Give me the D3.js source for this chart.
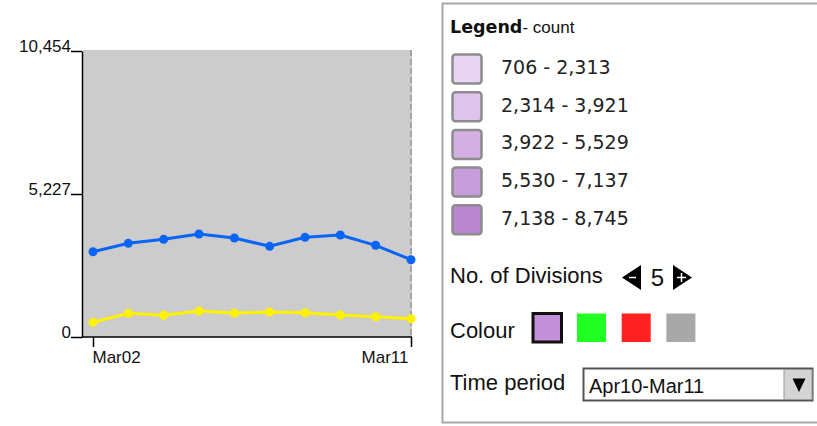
<!DOCTYPE html>
<html>
<head>
<meta charset="utf-8">
<script src="https://cdn.jsdelivr.net/npm/d3@7"></script>
<style>
  body { margin: 0; background: #fff; }
  svg { display: block; }
  .axis text { font-family: "Liberation Sans", Arial, sans-serif; font-size: 17px; fill: #111; }
  .axis path, .axis line { stroke: #000; stroke-width: 1.5; }
</style>
</head>
<body>
<svg width="817" height="426"></svg>
<script>
// chart data
var days = ["Mar02","Mar03","Mar04","Mar05","Mar06","Mar07","Mar08","Mar09","Mar10","Mar11"];
var blueCounts = [3118, 3424, 3571, 3765, 3618, 3315, 3644, 3728, 3352, 2825];
var yellowCounts = [537, 866, 793, 950, 877, 914, 888, 804, 742, 669];
var yTicks = [0, 5227, 10454];
var yMax = 10454;

// legend data
var legendRanges = ["706 - 2,313", "2,314 - 3,921", "3,922 - 5,529", "5,530 - 7,137", "7,138 - 8,745"];
var legendColours = ["#e8d4f3", "#dec4ec", "#d3b0e3", "#c79cdb", "#b987d0"];
var paletteColours = ["#c38fd9", "#22ff22", "#ff2020", "#a8a8a8"];
var divisions = 5;
var timePeriod = "Apr10-Mar11";

var svg = d3.select("svg");

var x = d3.scalePoint().domain(days).range([93, 411]);
var y = d3.scaleLinear().domain([0, yMax]).range([337, 51]);

// plot background
svg.append("rect")
    .attr("x", 83).attr("y", 50)
    .attr("width", 329).attr("height", 287)
    .attr("fill", "#cccccc");

svg.append("line")
    .attr("x1", 411).attr("x2", 411)
    .attr("y1", 50).attr("y2", 337)
    .attr("stroke", "#888")
    .attr("stroke-width", 1.2)
    .attr("stroke-dasharray", "6,3");

// y axis
var yAxis = svg.append("g")
    .attr("class", "axis")
    .attr("transform", "translate(82,0)")
    .call(d3.axisLeft(y).tickValues(yTicks).tickFormat(d3.format(",")).tickSize(11).tickSizeOuter(0).tickPadding(0));
yAxis.selectAll("text").attr("dy", "0");

// x axis
var xAxis = svg.append("g")
    .attr("class", "axis")
    .attr("transform", "translate(0,337)")
    .call(d3.axisBottom(x).tickValues([days[0], days[days.length - 1]]).tickSize(10).tickSizeOuter(0));
xAxis.select(".domain").remove();
xAxis.append("line")
    .attr("x1", 82).attr("x2", 412)
    .attr("stroke", "#000").attr("stroke-width", 1.5);
xAxis.selectAll("text")
    .attr("y", 14)
    .attr("text-anchor", function(d, i){ return i === 0 ? "start" : "end"; })
    .attr("dx", function(d, i){ return i === 0 ? "-1" : "-3"; });

// series
var series = [
  {values: blueCounts, colour: "#0a64f5"},
  {values: yellowCounts, colour: "#fff200"}
];

var line = d3.line()
    .x(function(d, i){ return x(days[i]); })
    .y(function(d){ return y(d); });

series.forEach(function(s){
  svg.append("path")
      .datum(s.values)
      .attr("fill", "none")
      .attr("stroke", s.colour)
      .attr("stroke-width", 3)
      .attr("d", line);

  svg.append("g").selectAll("circle")
      .data(s.values)
      .enter().append("circle")
        .attr("cx", function(d, i){ return x(days[i]); })
        .attr("cy", function(d){ return y(d); })
        .attr("r", 4.5)
        .attr("fill", s.colour);
});

// legend panel
var panel = svg.append("g");
panel.append("rect")
    .attr("x", 442.5).attr("y", 3.5)
    .attr("width", 400).attr("height", 419)
    .attr("fill", "#fff")
    .attr("stroke", "#a6a6a6")
    .attr("stroke-width", 2);

var title = panel.append("text")
    .attr("x", 450).attr("y", 33)
    .attr("fill", "#111");
title.append("tspan")
    .style("font-family", "'DejaVu Sans', Verdana, sans-serif")
    .style("font-weight", "bold")
    .style("font-size", "17.5px")
    .text("Legend");
title.append("tspan")
    .style("font-family", "'Liberation Sans', Arial, sans-serif")
    .style("font-size", "17px")
    .text("- count");

var rows = panel.selectAll(".row")
    .data(legendRanges)
    .enter().append("g")
      .attr("class", "row")
      .attr("transform", function(d, i){ return "translate(0," + (i * 37.7) + ")"; });

rows.append("rect")
    .attr("x", 452.5).attr("y", 54.5)
    .attr("width", 29).attr("height", 29)
    .attr("rx", 3)
    .attr("fill", function(d, i){ return legendColours[i]; })
    .attr("stroke", "#8c8c8c")
    .attr("stroke-width", 2.5);

rows.append("text")
    .attr("x", 501).attr("y", 74)
    .style("font-family", "'DejaVu Sans', Verdana, sans-serif")
    .style("font-size", "19px")
    .attr("fill", "#222")
    .text(function(d){ return d; });

var labelFont = "'Liberation Sans', Arial, sans-serif";

// divisions control
panel.append("text")
    .attr("x", 450).attr("y", 283)
    .style("font-family", labelFont).style("font-size", "22px")
    .attr("fill", "#111")
    .text("No. of Divisions");

panel.append("path")
    .attr("d", "M622,277.5L641,265L641,290Z")
    .attr("fill", "#000");
panel.append("line")
    .attr("x1", 629).attr("x2", 636)
    .attr("y1", 277.5).attr("y2", 277.5)
    .attr("stroke", "#fff").attr("stroke-width", 1.5);

panel.append("text")
    .attr("x", 657.5).attr("y", 286)
    .attr("text-anchor", "middle")
    .style("font-family", labelFont).style("font-size", "24px")
    .attr("fill", "#111")
    .text(divisions);

panel.append("path")
    .attr("d", "M673,265L692,277.5L673,290Z")
    .attr("fill", "#000");
panel.append("path")
    .attr("d", "M677,277.5H686M681.5,273V282")
    .attr("stroke", "#fff").attr("stroke-width", 1.5);

// colour control
panel.append("text")
    .attr("x", 450).attr("y", 338)
    .style("font-family", labelFont).style("font-size", "22px")
    .attr("fill", "#111")
    .text("Colour");

panel.selectAll(".swatch")
    .data(paletteColours)
    .enter().append("rect")
      .attr("class", "swatch")
      .attr("x", function(d, i){ return i === 0 ? 533 : 577 + (i - 1) * 44.7; })
      .attr("y", 313.5)
      .attr("width", function(d, i){ return i === 0 ? 28.5 : 29; })
      .attr("height", 28.5)
      .attr("fill", function(d){ return d; })
      .attr("stroke", function(d, i){ return i === 0 ? "#111" : "none"; })
      .attr("stroke-width", 3);

// time period control
panel.append("text")
    .attr("x", 450).attr("y", 390)
    .style("font-family", labelFont).style("font-size", "22px")
    .attr("fill", "#111")
    .text("Time period");

panel.append("rect")
    .attr("x", 583.5).attr("y", 368.5)
    .attr("width", 229).attr("height", 32)
    .attr("fill", "#fff")
    .attr("stroke", "#555")
    .attr("stroke-width", 2);

panel.append("rect")
    .attr("x", 784).attr("y", 369.5)
    .attr("width", 28).attr("height", 30)
    .attr("fill", "#d4d4d4")
    .attr("stroke", "#999")
    .attr("stroke-width", 1);

panel.append("path")
    .attr("d", "M792.5,378.5H805.5L799,392Z")
    .attr("fill", "#000");

panel.append("text")
    .attr("x", 589).attr("y", 392.5)
    .style("font-family", labelFont).style("font-size", "20px")
    .attr("fill", "#111")
    .text(timePeriod);
</script>
</body>
</html>
